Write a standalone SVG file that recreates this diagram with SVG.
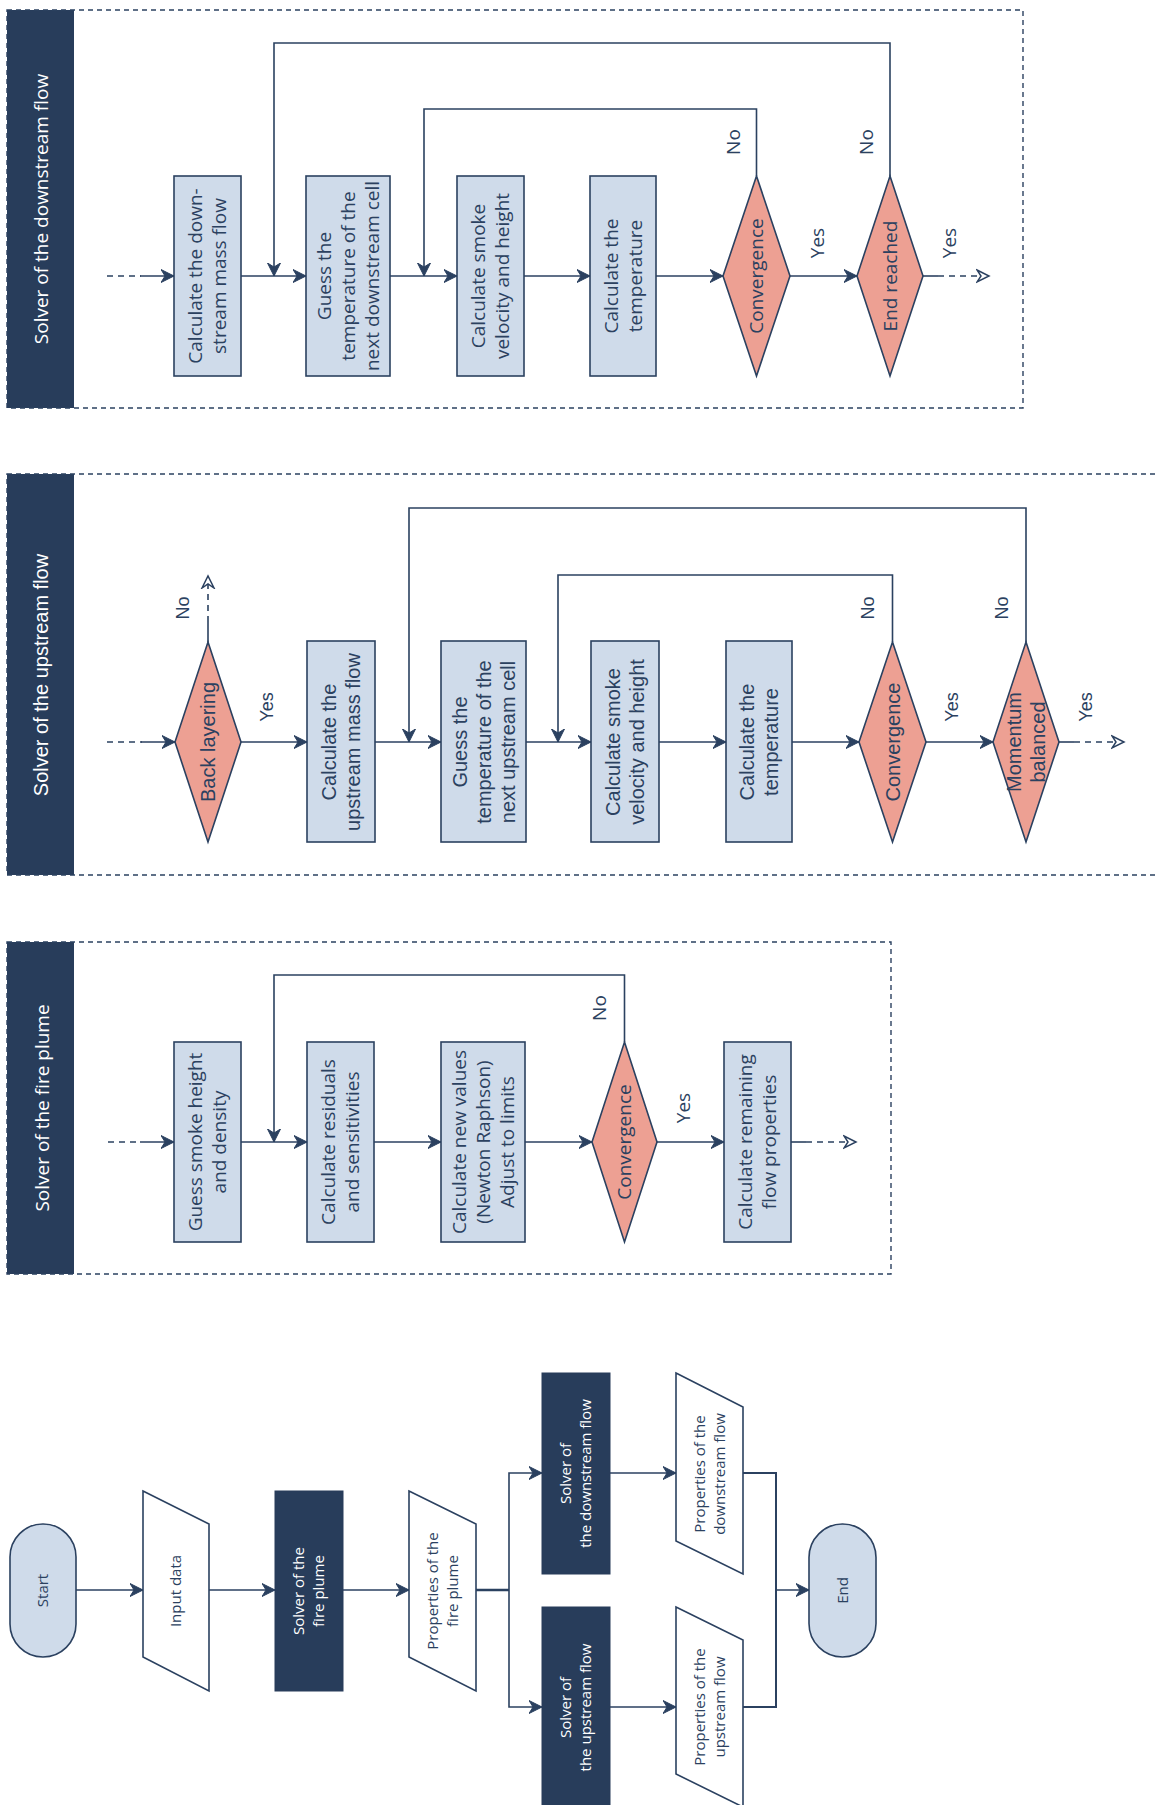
<svg xmlns="http://www.w3.org/2000/svg" width="1155" height="1805" viewBox="0 0 1155 1805">
<style>
  .bg{fill:#ffffff}
  .frame{fill:none;stroke:#2b4160;stroke-width:1.4;stroke-dasharray:5 4}
  .bar{fill:#283d5b}
  .box{fill:#cfdbea;stroke:#2b4160;stroke-width:1.6}
  .dia{fill:#eda093;stroke:#2b4160;stroke-width:1.6}
  .para{fill:#ffffff;stroke:#2b4160;stroke-width:1.6}
  .dark{fill:#283d5b;stroke:#283d5b;stroke-width:1}
  .pill{fill:#cfdbea;stroke:#2b4160;stroke-width:1.6}
  .ln{fill:none;stroke:#2b4160;stroke-width:1.6}
  .dl{fill:none;stroke:#2b4160;stroke-width:1.6;stroke-dasharray:6 5}
  .o{font-family:"Open Sans","Noto Sans","DejaVu Sans",sans-serif;fill:#2b4160;text-anchor:middle}
  .a{font-family:"Liberation Sans",Arial,sans-serif;fill:#2b4160;text-anchor:middle}
  .n{font-size:19px}
  .na{font-size:20px}
  .lab{font-size:19px}
  .laba{font-size:18px}
  .sm{font-size:15px}
  .w{fill:#ffffff}
</style>
<defs>
  <marker id="ar" markerUnits="userSpaceOnUse" markerWidth="14" markerHeight="14" refX="13" refY="7" orient="auto" viewBox="0 0 14 14">
    <path d="M0,0.5 L13,7 L0,13.5 L4,7 Z" fill="#2b4160" stroke="#2b4160" stroke-width="1" stroke-dasharray="none"/>
  </marker>
  <marker id="ao" markerUnits="userSpaceOnUse" markerWidth="16" markerHeight="16" refX="13" refY="7" orient="auto" viewBox="0 0 16 14">
    <path d="M1,1 L13,7 L1,13 L5,7 Z" fill="#ffffff" stroke="#2b4160" stroke-width="1.5" stroke-dasharray="none"/>
  </marker>
</defs>
<rect class="bg" x="0" y="0" width="1155" height="1805"/>

<!-- ================= Section: downstream ================= -->
<g id="sec-downstream">
  <rect class="bar" x="7" y="10" width="67" height="398"/>
  <rect class="frame" x="7" y="10" width="1016" height="398"/>
  <text class="o n w" transform="translate(41,209) rotate(-90)" y="6.6">Solver of the downstream flow</text>
</g>
<g id="d-box1">
  <rect class="box" x="174" y="176" width="67" height="200"/>
  <text class="o n" transform="translate(207.5,276) rotate(-90)"><tspan x="0" y="-5.4">Calculate the down-</tspan><tspan x="0" y="18.6">stream mass flow</tspan></text>
</g>
<g id="d-box2">
  <rect class="box" x="306" y="176" width="84" height="200"/>
  <text class="o n" transform="translate(348,276) rotate(-90)"><tspan x="0" y="-17.4">Guess the</tspan><tspan x="0" y="6.6">temperature of the</tspan><tspan x="0" y="30.6">next downstream cell</tspan></text>
</g>
<g id="d-box3">
  <rect class="box" x="457" y="176" width="67" height="200"/>
  <text class="o n" transform="translate(490.5,276) rotate(-90)"><tspan x="0" y="-5.4">Calculate smoke</tspan><tspan x="0" y="18.6">velocity and height</tspan></text>
</g>
<g id="d-box4">
  <rect class="box" x="590" y="176" width="66" height="200"/>
  <text class="o n" transform="translate(623,276) rotate(-90)"><tspan x="0" y="-5.4">Calculate the</tspan><tspan x="0" y="18.6">temperature</tspan></text>
</g>
<g id="d-conv">
  <polygon class="dia" points="756.5,176 790,276 756.5,376 723,276"/>
  <text class="o n" transform="translate(756.5,276) rotate(-90)" y="6.6">Convergence</text>
</g>
<g id="d-end">
  <polygon class="dia" points="890,176 923,276 890,376 857,276"/>
  <text class="o n" transform="translate(890,276) rotate(-90)" y="6.6">End reached</text>
</g>

<!-- ================= Section: upstream ================= -->
<g id="sec-upstream">
  <rect class="bar" x="7" y="474" width="67" height="401"/>
  <rect class="frame" x="7" y="474" width="1170" height="401"/>
  <text class="a na w" transform="translate(41,675) rotate(-90)" y="7">Solver of the upstream flow</text>
</g>
<g id="u-back">
  <polygon class="dia" points="208,642 241,742 208,842 175,742"/>
  <text class="a na" transform="translate(208,742) rotate(-90)" y="7">Back layering</text>
</g>
<g id="u-box1">
  <rect class="box" x="307" y="641" width="68" height="201"/>
  <text class="a na" transform="translate(341,742) rotate(-90)"><tspan x="0" y="-5">Calculate the</tspan><tspan x="0" y="19">upstream mass flow</tspan></text>
</g>
<g id="u-box2">
  <rect class="box" x="441" y="641" width="85" height="201"/>
  <text class="a na" transform="translate(483.5,742) rotate(-90)"><tspan x="0" y="-17">Guess the</tspan><tspan x="0" y="7">temperature of the</tspan><tspan x="0" y="31">next upstream cell</tspan></text>
</g>
<g id="u-box3">
  <rect class="box" x="591" y="641" width="68" height="201"/>
  <text class="a na" transform="translate(625,742) rotate(-90)"><tspan x="0" y="-5">Calculate smoke</tspan><tspan x="0" y="19">velocity and height</tspan></text>
</g>
<g id="u-box4">
  <rect class="box" x="726" y="641" width="66" height="201"/>
  <text class="a na" transform="translate(759,742) rotate(-90)"><tspan x="0" y="-5">Calculate the</tspan><tspan x="0" y="19">temperature</tspan></text>
</g>
<g id="u-conv">
  <polygon class="dia" points="892.5,642 926,742 892.5,842 859,742"/>
  <text class="a na" transform="translate(892.5,742) rotate(-90)" y="7">Convergence</text>
</g>
<g id="u-mom">
  <polygon class="dia" points="1026,642 1059,742 1026,842 993,742"/>
  <text class="a na" transform="translate(1026,742) rotate(-90)"><tspan x="0" y="-5">Momentum</tspan><tspan x="0" y="19">balanced</tspan></text>
</g>

<!-- ================= Section: fire plume ================= -->
<g id="sec-plume">
  <rect class="bar" x="7" y="942" width="67" height="332"/>
  <rect class="frame" x="7" y="942" width="884" height="332"/>
  <text class="o n w" transform="translate(42,1108) rotate(-90)" y="6.6">Solver of the fire plume</text>
</g>
<g id="p-box1">
  <rect class="box" x="174" y="1042" width="67" height="200"/>
  <text class="o n" transform="translate(207.5,1142) rotate(-90)"><tspan x="0" y="-5.4">Guess smoke height</tspan><tspan x="0" y="18.6">and density</tspan></text>
</g>
<g id="p-box2">
  <rect class="box" x="307" y="1042" width="67" height="200"/>
  <text class="o n" transform="translate(340.5,1142) rotate(-90)"><tspan x="0" y="-5.4">Calculate residuals</tspan><tspan x="0" y="18.6">and sensitivities</tspan></text>
</g>
<g id="p-box3">
  <rect class="box" x="441" y="1042" width="84" height="200"/>
  <text class="o n" transform="translate(483,1142) rotate(-90)"><tspan x="0" y="-17.4">Calculate new values</tspan><tspan x="0" y="6.6">(Newton Raphson)</tspan><tspan x="0" y="30.6">Adjust to limits</tspan></text>
</g>
<g id="p-conv">
  <polygon class="dia" points="624.5,1042 657,1142 624.5,1242 592,1142"/>
  <text class="o n" transform="translate(624.5,1142) rotate(-90)" y="6.6">Convergence</text>
</g>
<g id="p-box4">
  <rect class="box" x="724" y="1042" width="67" height="200"/>
  <text class="o n" transform="translate(757.5,1142) rotate(-90)"><tspan x="0" y="-5.4">Calculate remaining</tspan><tspan x="0" y="18.6">flow properties</tspan></text>
</g>

<!-- ================= Overview ================= -->
<g id="o-start">
  <rect class="pill" x="10" y="1524" width="66" height="133" rx="33" ry="33"/>
  <text class="o sm" transform="translate(43,1590.5) rotate(-90)" y="5.3">Start</text>
</g>
<g id="o-input">
  <polygon class="para" points="143,1491 209,1524 209,1691 143,1657"/>
  <text class="o sm" transform="translate(176,1591) rotate(-90)" y="5.3">Input data</text>
</g>
<g id="o-solver-plume">
  <rect class="dark" x="275" y="1491" width="68" height="200"/>
  <text class="o sm w" transform="translate(309,1591) rotate(-90)"><tspan x="0" y="-4.7">Solver of the</tspan><tspan x="0" y="15.3">fire plume</tspan></text>
</g>
<g id="o-prop-plume">
  <polygon class="para" points="409,1491 476,1524 476,1691 409,1657"/>
  <text class="o sm" transform="translate(442.5,1591) rotate(-90)"><tspan x="0" y="-4.7">Properties of the</tspan><tspan x="0" y="15.3">fire plume</tspan></text>
</g>
<g id="o-solver-down">
  <rect class="dark" x="542" y="1373" width="68" height="201"/>
  <text class="o sm w" transform="translate(576,1473.5) rotate(-90)"><tspan x="0" y="-4.7">Solver of</tspan><tspan x="0" y="15.3">the downstream flow</tspan></text>
</g>
<g id="o-solver-up">
  <rect class="dark" x="542" y="1607" width="68" height="201"/>
  <text class="o sm w" transform="translate(576,1707.5) rotate(-90)"><tspan x="0" y="-4.7">Solver of</tspan><tspan x="0" y="15.3">the upstream flow</tspan></text>
</g>
<g id="o-prop-down">
  <polygon class="para" points="676,1373 743,1407 743,1574 676,1541"/>
  <text class="o sm" transform="translate(709.5,1474) rotate(-90)"><tspan x="0" y="-4.7">Properties of the</tspan><tspan x="0" y="15.3">downstream flow</tspan></text>
</g>
<g id="o-prop-up">
  <polygon class="para" points="676,1607 743,1640 743,1807 676,1774"/>
  <text class="o sm" transform="translate(709.5,1707) rotate(-90)"><tspan x="0" y="-4.7">Properties of the</tspan><tspan x="0" y="15.3">upstream flow</tspan></text>
</g>
<g id="o-end">
  <rect class="pill" x="809" y="1524" width="67" height="133" rx="33.5" ry="33.5"/>
  <text class="o sm" transform="translate(842.5,1590.5) rotate(-90)" y="5.3">End</text>
</g>

<!-- ================= Connectors ================= -->
<g id="connectors">
  <!-- downstream -->
  <line class="dl" x1="107" y1="276" x2="141" y2="276"/>
  <line class="ln" x1="140" y1="276" x2="174" y2="276" marker-end="url(#ar)"/>
  <line class="ln" x1="241" y1="276" x2="306" y2="276" marker-end="url(#ar)"/>
  <line class="ln" x1="390" y1="276" x2="457" y2="276" marker-end="url(#ar)"/>
  <line class="ln" x1="524" y1="276" x2="590" y2="276" marker-end="url(#ar)"/>
  <line class="ln" x1="656" y1="276" x2="723" y2="276" marker-end="url(#ar)"/>
  <line class="ln" x1="790" y1="276" x2="857" y2="276" marker-end="url(#ar)"/>
  <line class="ln" x1="923" y1="276" x2="938" y2="276"/>
  <line class="dl" x1="938" y1="276" x2="989" y2="276" marker-end="url(#ao)"/>
  <polyline class="ln" points="890,176 890,43 274,43 274,276" marker-end="url(#ar)"/>
  <polyline class="ln" points="756.5,176 756.5,109 424,109 424,276" marker-end="url(#ar)"/>
  <!-- upstream -->
  <line class="dl" x1="107" y1="742" x2="142" y2="742"/>
  <line class="ln" x1="141" y1="742" x2="175" y2="742" marker-end="url(#ar)"/>
  <line class="ln" x1="208" y1="642" x2="208" y2="622"/>
  <line class="dl" x1="208" y1="622" x2="208" y2="576" marker-end="url(#ao)"/>
  <line class="ln" x1="241" y1="742" x2="307" y2="742" marker-end="url(#ar)"/>
  <line class="ln" x1="375" y1="742" x2="441" y2="742" marker-end="url(#ar)"/>
  <line class="ln" x1="526" y1="742" x2="591" y2="742" marker-end="url(#ar)"/>
  <line class="ln" x1="659" y1="742" x2="726" y2="742" marker-end="url(#ar)"/>
  <line class="ln" x1="792" y1="742" x2="859" y2="742" marker-end="url(#ar)"/>
  <line class="ln" x1="926" y1="742" x2="993" y2="742" marker-end="url(#ar)"/>
  <line class="ln" x1="1059" y1="742" x2="1074" y2="742"/>
  <line class="dl" x1="1074" y1="742" x2="1124" y2="742" marker-end="url(#ao)"/>
  <polyline class="ln" points="1026,642 1026,508 409,508 409,742" marker-end="url(#ar)"/>
  <polyline class="ln" points="892.5,642 892.5,575 558,575 558,742" marker-end="url(#ar)"/>
  <!-- fire plume -->
  <line class="dl" x1="108" y1="1142" x2="141" y2="1142"/>
  <line class="ln" x1="140" y1="1142" x2="174" y2="1142" marker-end="url(#ar)"/>
  <line class="ln" x1="241" y1="1142" x2="307" y2="1142" marker-end="url(#ar)"/>
  <line class="ln" x1="374" y1="1142" x2="441" y2="1142" marker-end="url(#ar)"/>
  <line class="ln" x1="525" y1="1142" x2="592" y2="1142" marker-end="url(#ar)"/>
  <line class="ln" x1="657" y1="1142" x2="724" y2="1142" marker-end="url(#ar)"/>
  <line class="ln" x1="791" y1="1142" x2="806" y2="1142"/>
  <line class="dl" x1="806" y1="1142" x2="856" y2="1142" marker-end="url(#ao)"/>
  <polyline class="ln" points="624.5,1042 624.5,975 274,975 274,1142" marker-end="url(#ar)"/>
  <!-- overview -->
  <line class="ln" x1="76" y1="1590" x2="143" y2="1590" marker-end="url(#ar)"/>
  <line class="ln" x1="209" y1="1590" x2="275" y2="1590" marker-end="url(#ar)"/>
  <line class="ln" x1="343" y1="1590" x2="409" y2="1590" marker-end="url(#ar)"/>
  <line class="ln" x1="476" y1="1590" x2="509" y2="1590" style="stroke-width:2.4"/>
  <polyline class="ln" points="509,1590 509,1473 542,1473" marker-end="url(#ar)"/>
  <polyline class="ln" points="509,1590 509,1707 542,1707" marker-end="url(#ar)"/>
  <line class="ln" x1="610" y1="1473" x2="676" y2="1473" marker-end="url(#ar)"/>
  <line class="ln" x1="610" y1="1707" x2="676" y2="1707" marker-end="url(#ar)"/>
  <polyline class="ln" points="743,1473 776,1473 776,1590" style="stroke-width:2"/>
  <polyline class="ln" points="743,1707 776,1707 776,1590" style="stroke-width:2"/>
  <line class="ln" x1="776" y1="1590" x2="809" y2="1590" marker-end="url(#ar)"/>
</g>

<!-- ================= Edge labels ================= -->
<g id="labels">
  <text class="o lab" transform="translate(733,142) rotate(-90)" y="6.6">No</text>
  <text class="o lab" transform="translate(866,142) rotate(-90)" y="6.6">No</text>
  <text class="o lab" transform="translate(817,243) rotate(-90)" y="6.6">Yes</text>
  <text class="o lab" transform="translate(949,243) rotate(-90)" y="6.6">Yes</text>
  <text class="a laba" transform="translate(183,608) rotate(-90)" y="6.3">No</text>
  <text class="a laba" transform="translate(267,707) rotate(-90)" y="6.3">Yes</text>
  <text class="a laba" transform="translate(868,608) rotate(-90)" y="6.3">No</text>
  <text class="a laba" transform="translate(1002,608) rotate(-90)" y="6.3">No</text>
  <text class="a laba" transform="translate(952,707) rotate(-90)" y="6.3">Yes</text>
  <text class="a laba" transform="translate(1086,707) rotate(-90)" y="6.3">Yes</text>
  <text class="o lab" transform="translate(599,1008) rotate(-90)" y="6.6">No</text>
  <text class="o lab" transform="translate(683,1108) rotate(-90)" y="6.6">Yes</text>
</g>
</svg>
